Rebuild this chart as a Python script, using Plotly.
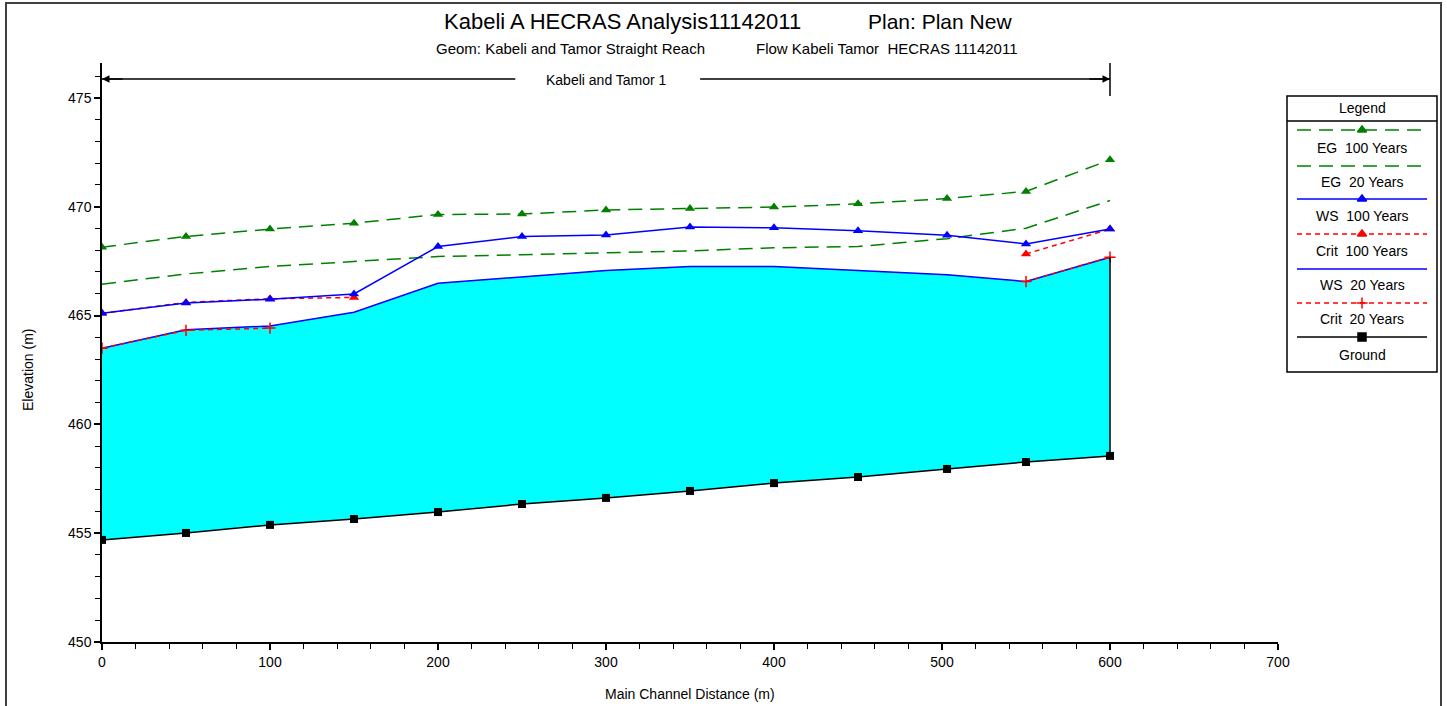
import plotly.graph_objects as go

# ---------------- data ----------------
stations = [0, 50, 100, 150, 200, 250, 300, 350, 400, 450, 503, 550, 600]
ground = [454.69, 455.01, 455.38, 455.65, 455.97, 456.34, 456.62, 456.94, 457.30, 457.58, 457.95, 458.27, 458.55]
ws_20 = [463.50, 464.34, 464.52, 465.15, 466.48, 466.79, 467.07, 467.25, 467.25, 467.07, 466.87, 466.56, 467.68]
crit_20 = [463.50, 464.32, 464.42, None, None, None, None, None, None, None, None, 466.56, 467.68]
ws_100 = [465.10, 465.57, 465.75, 465.99, 468.17, 468.63, 468.70, 469.06, 469.03, 468.89, 468.69, 468.29, 468.97]
crit_100 = [465.10, 465.60, 465.77, 465.83, None, None, None, None, None, None, None, 467.83, 468.97]
eg_20 = [466.44, 466.91, 467.25, 467.48, 467.71, 467.79, 467.89, 467.97, 468.11, 468.17, 468.53, 469.01, 470.28]
eg_100 = [468.14, 468.63, 468.97, 469.24, 469.64, 469.66, 469.85, 469.91, 469.98, 470.13, 470.37, 470.70, 472.15]

x_ticks = [0, 100, 200, 300, 400, 500, 600, 700]
y_ticks = [450, 455, 460, 465, 470, 475]
legend_names = ["EG  100 Years", "EG  20 Years", "WS  100 Years", "Crit  100 Years",
                "WS  20 Years", "Crit  20 Years", "Ground"]
reach_name = "Kabeli and Tamor 1"
title_main = "Kabeli A HECRAS Analysis11142011"
title_plan = "Plan: Plan New"
sub_geom = "Geom: Kabeli and Tamor Straight Reach"
sub_flow = "Flow Kabeli Tamor  HECRAS 11142011"

# ---------------- layout helpers ----------------
W, H = 1447, 706
def px(x):
    return x / W
def py(y):
    return 1 - y / H

FONT = "Liberation Sans"
GREEN, BLUE, RED, CYAN = "#008000", "#0000ff", "#ff0000", "#00ffff"
EG_DASH = "14px,8px"
CRIT_DASH = "5px,4px"
TRI = 9

fig = go.Figure()

# ground (bottom of fill)
fig.add_trace(go.Scatter(x=stations, y=ground, mode="lines+markers",
                         line=dict(color="black", width=1.5),
                         marker=dict(symbol="square", size=8, color="black"),
                         showlegend=False))
# WS 20 with fill to ground
fig.add_trace(go.Scatter(x=stations, y=ws_20, mode="lines", fill="tonexty",
                         fillcolor=CYAN, line=dict(color=BLUE, width=1.5),
                         showlegend=False))
fig.add_trace(go.Scatter(x=stations, y=crit_20, mode="lines+markers",
                         line=dict(color=RED, width=1.5, dash=CRIT_DASH),
                         marker=dict(symbol="cross-thin", size=8, color=RED,
                                     line=dict(color=RED, width=1.5)),
                         showlegend=False))
fig.add_trace(go.Scatter(x=stations, y=eg_20, mode="lines",
                         line=dict(color=GREEN, width=1.5, dash=EG_DASH),
                         showlegend=False))
fig.add_trace(go.Scatter(x=stations, y=crit_100, mode="lines+markers",
                         line=dict(color=RED, width=1.5, dash=CRIT_DASH),
                         marker=dict(symbol="triangle-up", size=TRI, color=RED),
                         showlegend=False))
fig.add_trace(go.Scatter(x=stations, y=ws_100, mode="lines+markers",
                         line=dict(color=BLUE, width=1.5),
                         marker=dict(symbol="triangle-up", size=TRI, color=BLUE),
                         showlegend=False))
fig.add_trace(go.Scatter(x=stations, y=eg_100, mode="lines+markers",
                         line=dict(color=GREEN, width=1.5, dash=EG_DASH),
                         marker=dict(symbol="triangle-up", size=TRI, color=GREEN),
                         showlegend=False))

# ---------------- custom legend (drawn on a pixel-unit helper axis) ----------------
LX0, LX1, LY0, LY1 = 1287, 1437, 96, 372
leg_styles = [
    dict(color=GREEN, dash=EG_DASH, symbol="triangle-up"),
    dict(color=GREEN, dash=EG_DASH, symbol=None),
    dict(color=BLUE, dash="solid", symbol="triangle-up"),
    dict(color=RED, dash=CRIT_DASH, symbol="triangle-up"),
    dict(color=BLUE, dash="solid", symbol=None),
    dict(color=RED, dash=CRIT_DASH, symbol="cross-thin"),
    dict(color="black", dash="solid", symbol="square"),
]
line_y = [130, 166, 199, 234, 269, 303, 337]
text_y = [148, 182, 216, 251, 285, 319, 355]
for st, ly in zip(leg_styles, line_y):
    fig.add_trace(go.Scatter(x=[1297, 1427], y=[ly, ly], mode="lines",
                             line=dict(color=st["color"], width=1.5, dash=st["dash"]),
                             xaxis="x2", yaxis="y2", showlegend=False, hoverinfo="skip"))
    if st["symbol"]:
        fig.add_trace(go.Scatter(x=[1362], y=[ly], mode="markers",
                                 marker=dict(symbol=st["symbol"], size=8,
                                             color=st["color"], line=dict(color=st["color"], width=1.5)),
                                 xaxis="x2", yaxis="y2", showlegend=False, hoverinfo="skip"))

annotations = []
for name, ty in zip(legend_names, text_y):
    annotations.append(dict(x=px(1362), y=py(ty), xref="paper", yref="paper", text=name,
                            showarrow=False, font=dict(family=FONT, size=14, color="black"),
                            xanchor="center", yanchor="middle"))
annotations.append(dict(x=px(1362), y=py(108), xref="paper", yref="paper", text="Legend",
                        showarrow=False, font=dict(family=FONT, size=14, color="black"),
                        xanchor="center", yanchor="middle"))

# titles
annotations += [
    dict(x=px(622), y=py(22), xref="paper", yref="paper", text=title_main, showarrow=False,
         font=dict(family=FONT, size=22, color="black"), xanchor="center", yanchor="middle"),
    dict(x=px(940), y=py(22), xref="paper", yref="paper", text=title_plan, showarrow=False,
         font=dict(family=FONT, size=21, color="black"), xanchor="center", yanchor="middle"),
    dict(x=px(570), y=py(49), xref="paper", yref="paper", text=sub_geom, showarrow=False,
         font=dict(family=FONT, size=15, color="black"), xanchor="center", yanchor="middle"),
    dict(x=px(887), y=py(49), xref="paper", yref="paper", text=sub_flow, showarrow=False,
         font=dict(family=FONT, size=15, color="black"), xanchor="center", yanchor="middle"),
    dict(x=px(690), y=py(694), xref="paper", yref="paper", text="Main Channel Distance (m)",
         showarrow=False, font=dict(family=FONT, size=14, color="black"),
         xanchor="center", yanchor="middle"),
    dict(x=px(28), y=py(370), xref="paper", yref="paper", text="Elevation (m)", textangle=-90,
         showarrow=False, font=dict(family=FONT, size=14, color="black"),
         xanchor="center", yanchor="middle"),
]

# reach bracket
reach_start, reach_end = stations[0], stations[-1]
reach_mid = (reach_start + reach_end) / 2
annotations.append(dict(x=reach_mid, y=py(80), xref="x", yref="paper", text=reach_name,
                        showarrow=False, font=dict(family=FONT, size=14, color="black"),
                        xanchor="center", yanchor="middle"))
annotations.append(dict(x=reach_start, y=py(79), xref="x", yref="paper", text="",
                        showarrow=True, ax=22, ay=0, axref="pixel", ayref="pixel",
                        arrowhead=2, arrowsize=1, arrowwidth=1.5, arrowcolor="black"))
annotations.append(dict(x=reach_end, y=py(79), xref="x", yref="paper", text="",
                        showarrow=True, ax=-22, ay=0, axref="pixel", ayref="pixel",
                        arrowhead=2, arrowsize=1, arrowwidth=1.5, arrowcolor="black"))

shapes = [
    # outer frame
    dict(type="rect", xref="paper", yref="paper", x0=px(6), x1=px(1441), y0=py(720), y1=py(3),
         line=dict(color="#404040", width=2)),
    # legend box
    dict(type="rect", xref="paper", yref="paper", x0=px(LX0), x1=px(LX1), y0=py(LY1), y1=py(LY0),
         line=dict(color="black", width=1.5)),
    dict(type="line", xref="paper", yref="paper", x0=px(LX0), x1=px(LX1), y0=py(121), y1=py(121),
         line=dict(color="black", width=1.5)),
    # reach bracket lines
    dict(type="line", xref="x", yref="paper", x0=reach_start, x1=246, y0=py(79), y1=py(79),
         line=dict(color="black", width=1.5)),
    dict(type="line", xref="x", yref="paper", x0=356, x1=reach_end, y0=py(79), y1=py(79),
         line=dict(color="black", width=1.5)),
    dict(type="line", xref="x", yref="paper", x0=reach_end, x1=reach_end, y0=py(96), y1=py(63),
         line=dict(color="black", width=1.5)),
    # right edge of the water region
    dict(type="line", xref="x", yref="y", x0=stations[-1], x1=stations[-1], y0=ground[-1], y1=ws_20[-1],
         line=dict(color="black", width=1.5)),
]

fig.update_layout(
    width=W, height=H,
    margin=dict(l=0, r=0, t=0, b=0, autoexpand=False),
    paper_bgcolor="white", plot_bgcolor="white",
    showlegend=False,
    font=dict(family=FONT, size=14, color="black"),
    xaxis=dict(domain=[px(102), px(1278)], range=[0, 700], tickvals=x_ticks, automargin=False,
               showgrid=False, zeroline=False, showline=True, linecolor="black", linewidth=1.5,
               ticks="outside", ticklen=6, tickwidth=1.5, tickcolor="black",
               minor=dict(dtick=20, ticks="outside", ticklen=5, tickwidth=1, tickcolor="black", showgrid=False),
               tickfont=dict(family=FONT, size=14, color="black"), fixedrange=True),
    yaxis=dict(domain=[py(642), py(63)], range=[450, 476.6], tickvals=y_ticks, automargin=False,
               showgrid=False, zeroline=False, showline=True, linecolor="black", linewidth=1.5,
               ticks="outside", ticklen=6, tickwidth=1.5, tickcolor="black",
               minor=dict(dtick=1, ticks="outside", ticklen=5, tickwidth=1, tickcolor="black", showgrid=False),
               tickfont=dict(family=FONT, size=14, color="black"), fixedrange=True),
    xaxis2=dict(domain=[px(LX0), px(LX1)], range=[LX0, LX1], visible=False, anchor="y2",
                fixedrange=True, automargin=False),
    yaxis2=dict(domain=[py(LY1), py(LY0)], range=[LY1, LY0], visible=False, anchor="x2",
                fixedrange=True, automargin=False),
    annotations=annotations,
    shapes=shapes,
)

fig.write_html("out.html", config={"displayModeBar": False},
               post_script="document.body.style.margin='0px';document.body.style.overflow='hidden';")
